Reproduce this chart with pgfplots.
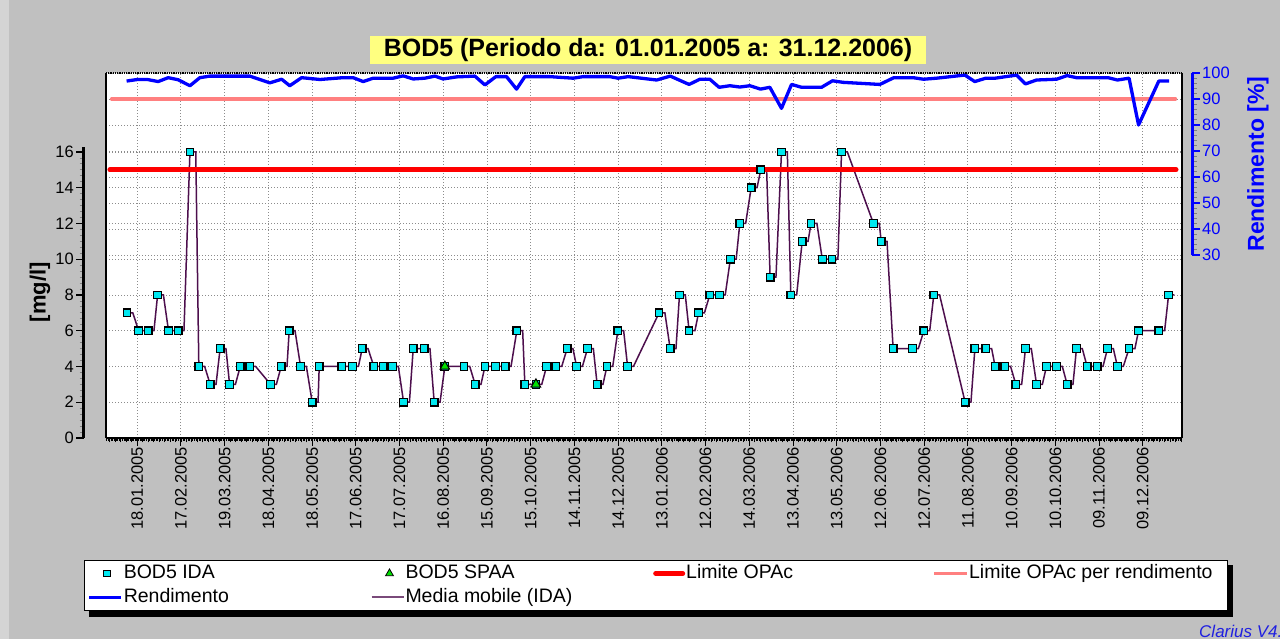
\documentclass[border=0pt]{standalone}
\usepackage{fontspec}
\setmainfont{Liberation Sans}
\usepackage{pgfplots}
\pgfplotsset{compat=1.18}
\definecolor{bggray}{HTML}{C0C0C0}
\definecolor{stripgray}{HTML}{D4D4D4}
\definecolor{gridc}{HTML}{8C8C8C}
\definecolor{cyanm}{HTML}{00E8F0}
\definecolor{greenm}{HTML}{00E000}
\definecolor{purp}{HTML}{4D0F4D}
\definecolor{purpl}{HTML}{7A4A7A}
\definecolor{pinkl}{HTML}{FF8080}
\definecolor{titley}{HTML}{FFFF80}
\definecolor{clar}{HTML}{2020E0}
\pgfplotsset{
  /pgf/number format/assume math mode=true,
  every tick label/.append style={font=\fontsize{16.5}{18}\selectfont},
  lgline/.style={legend image code/.code={\path[draw=none,fill=none] (-1pt,-1pt) rectangle (31pt,1pt);\draw[##1] (0pt,0pt) -- (32pt,0pt);}},
  lgrline/.style={legend image code/.code={\path[draw=none,fill=none] (-1pt,-1pt) rectangle (31pt,1pt);\draw[##1] (2.5pt,0pt) -- (29.5pt,0pt);}},
  lgmark/.style={legend image code/.code={\path[draw=none,fill=none] (-1pt,-1pt) rectangle (31pt,1pt);\draw[##1] plot coordinates {(18pt,0pt)};}},
}
\begin{document}
\begin{tikzpicture}
\fill[bggray] (0pt,0pt) rectangle (1280pt,639pt);
\fill[stripgray] (0pt,0pt) rectangle (9pt,639pt);
\node[fill=titley, minimum width=556pt, minimum height=28pt, inner sep=0pt, font=\fontsize{25}{28}\selectfont\bfseries] at (648pt,589pt) {BOD5 (Periodo da: 01.01.2005 a: 31.12.2006)};
% legend shadow
\fill[black] (89pt,22pt) rectangle (1233pt,74pt);

% secondary axis: Rendimento
\begin{axis}[
  at={(106pt,201pt)}, anchor=south west, scale only axis,
  width=1076pt, height=365pt,
  xmin=-21.4, xmax=716.9, ymin=-40.38, ymax=100,
  axis background/.style={fill=white},
  axis line style={draw=none},
  xtick={0,30,...,690}, xticklabels={}, xmajorgrids,
  ytick={30,40,...,100}, yticklabels={}, ymajorgrids,
  major tick length=0pt, minor tick length=0pt,
  grid style={gridc, line width=0.9pt, dash pattern=on 0.9pt off 2.1pt},
  clip=false,
]
\addplot[pinkl, line width=3.2pt, line cap=round, forget plot] coordinates {(-17.6,90) (712.5,90)};
\addplot[blue, line width=3.3pt, line join=round, forget plot] coordinates {
(-7.27,96.9) (0.14,97.5) (7.0,97.5) (14.4,96.7) (21.3,98.2) (28.1,97.4) (36.2,95.1) (43.0,98.2) (49.9,98.8) (77.3,98.8)
(91.0,96.2) (99.1,97.6) (104.7,95.1) (112.8,98.2) (125.4,97.5) (141.2,98.2) (148.2,98.2) (155.1,96.7) (161.9,98) (175.6,98)
(182.5,98.9) (189.4,97.7) (197.4,98) (204.3,98.8) (209.9,97.7) (219.1,98.5) (231.7,98.8) (238.6,95.4) (246.1,98.6) (253.4,98.6)
(260.3,93.8) (266.0,98.6) (283.1,98.6) (299.1,98) (306.0,98.6) (324.3,98.6) (330.0,98) (336.9,98.6) (356.4,97.3) (365.8,98.8)
(378.7,95.6) (386.1,97.6) (392.9,97.6) (399.3,94.5) (406.7,95.1) (413.5,94.6) (420.4,95.1) (427.7,93.8) (434.1,94.5) (442.1,86.4)
(449.0,95.6) (455.9,94.5) (469.6,94.5) (477.1,97) (484.4,96.4) (509.6,95.6) (519.2,98.2) (532.4,98.2) (539.6,97.6) (548.5,98)
(567.9,99.2) (574.7,96.7) (582.3,98) (588.7,98) (603.4,99.2) (609.5,95.8) (617.1,97.3) (630.8,97.6) (638.1,99) (644.5,98.2)
(666.2,98.2) (672.6,97.3) (680.6,98) (687.1,80) (701.0,96.9) (708.1,96.9)};
\end{axis}

% main axis: BOD5
\begin{axis}[
  at={(106pt,201pt)}, anchor=south west, scale only axis,
  width=1076pt, height=365pt,
  xmin=-21.4, xmax=716.9, ymin=0, ymax=20.42,
  axis line style={draw=none},
  xtick={0,30,...,690},
  xticklabels={18.01.2005,17.02.2005,19.03.2005,18.04.2005,18.05.2005,17.06.2005,17.07.2005,16.08.2005,15.09.2005,15.10.2005,14.11.2005,14.12.2005,13.01.2006,12.02.2006,14.03.2006,13.04.2006,13.05.2006,12.06.2006,12.07.2006,11.08.2006,10.09.2006,10.10.2006,09.11.2006,09.12.2006},
  minor xtick={-18.75,-15,...,716},
  xtick pos=left, ytick pos=left, tick align=outside,
  major tick length=8pt, minor tick length=4.5pt,
  major x tick style={black, line width=1pt},
  minor x tick style={black, line width=0.8pt},
  xticklabel style={rotate=90, anchor=east, inner sep=1pt},
  ytick={0,2,...,16}, yticklabels={}, ymajorgrids,
  major y tick style={draw=none},
  grid style={gridc, line width=0.9pt, dash pattern=on 0.9pt off 2.1pt},
  clip=false,
  legend columns=4,
  legend cell align=left,
  legend style={at={(-0.02045,-0.3342)}, anchor=north west, draw=black, line width=1pt, fill=white,
    inner sep=3pt, column sep=0pt, row sep=4pt,
    font=\fontsize{19.5}{22}\selectfont,
    nodes={inner sep=1pt, text height=14pt, text depth=4pt}},
]
\addplot[purp, line width=1.5pt, forget plot] coordinates {
(-7,7) (-3,7) (1,6) (5,6) (7.5,6) (11.5,6) (14,8) (18,8) (21.5,6) (25.5,6)
(28.1,6) (32.1,6) (36.2,16) (40.2,16) (42.3,4) (46.3,4) (50.1,3) (54.1,3) (56.9,5) (60.9,5)
(63.4,3) (67.4,3) (70.7,4) (74.7,4) (77.3,4) (81.3,4) (91.5,3) (95.5,3) (98.8,4) (102.8,4)
(104.3,6) (108.3,6) (112.1,4) (116.1,4) (120.1,2) (124.1,2) (124.9,4) (128.9,4) (140.4,4) (144.4,4)
(147.8,4) (151.8,4) (154.4,5) (158.4,5) (162.4,4) (166.4,4) (168.8,4) (172.8,4) (175.2,4) (179.2,4)
(182.8,2) (186.8,2) (189.4,5) (193.4,5) (196.9,5) (200.9,5) (203.8,2) (207.8,2) (211.1,4) (215.1,4)
(224.2,4) (228.2,4) (231.9,3) (235.9,3) (238.6,4) (242.6,4) (245.9,4) (249.9,4) (252.5,4) (256.5,4)
(260.5,6) (264.5,6) (266,3) (270,3) (273.6,3) (277.6,3) (280.9,4) (284.9,4) (287.3,4) (291.3,4)
(295,5) (299,5) (301.5,4) (305.5,4) (309,5) (313,5) (315.6,3) (319.6,3) (322.3,4) (326.3,4)
(329.8,6) (333.8,6) (336.5,4) (340.5,4) (358.1,7) (362.1,7) (365.7,5) (369.7,5) (372.1,8) (376.1,8)
(378.7,6) (382.7,6) (385.2,7) (389.2,7) (392.9,8) (396.9,8) (399.5,8) (403.5,8) (407,10) (411,10)
(413.5,12) (417.5,12) (421.3,14) (425.3,14) (427.9,15) (431.9,15) (434.3,9) (438.3,9) (442.1,16) (446.1,16)
(448.5,8) (452.5,8) (456.3,11) (460.3,11) (462.4,12) (466.4,12) (470.1,10) (474.1,10) (476.8,10) (480.8,10)
(483.3,16) (487.3,16) (505.2,12) (509.2,12) (510.5,11) (514.5,11) (518.7,5) (522.7,5) (532,5) (536,5)
(539.8,6) (543.8,6) (546.6,8) (550.6,8) (568.1,2) (572.1,2) (574.8,5) (578.8,5) (582.3,5) (586.3,5)
(588.7,4) (592.7,4) (595.3,4) (599.3,4) (602.9,3) (606.9,3) (609.5,5) (613.5,5) (617.1,3) (621.1,3)
(623.9,4) (627.9,4) (630.8,4) (634.8,4) (638.1,3) (642.1,3) (644.5,5) (648.5,5) (651.8,4) (655.8,4)
(658.7,4) (662.7,4) (665.8,5) (669.8,5) (672.6,4) (676.6,4) (680.6,5) (684.6,5) (687.1,6) (691.1,6)
(701,6) (705,6) (707.7,8) (711.7,8)};
\addplot[only marks, mark=square*, mark size=3.8pt, mark options={draw=black, fill=cyanm, line width=1.2pt}, forget plot] table {
d v
-7 7
1 6
7.5 6
14 8
21.5 6
28.1 6
36.2 16
42.3 4
50.1 3
56.9 5
63.4 3
70.7 4
77.3 4
91.5 3
98.8 4
104.3 6
112.1 4
120.1 2
124.9 4
140.4 4
147.8 4
154.4 5
162.4 4
168.8 4
175.2 4
182.8 2
189.4 5
196.9 5
203.8 2
211.1 4
224.2 4
231.9 3
238.6 4
245.9 4
252.5 4
260.5 6
266 3
273.6 3
280.9 4
287.3 4
295 5
301.5 4
309 5
315.6 3
322.3 4
329.8 6
336.5 4
358.1 7
365.7 5
372.1 8
378.7 6
385.2 7
392.9 8
399.5 8
407 10
413.5 12
421.3 14
427.9 15
434.3 9
442.1 16
448.5 8
456.3 11
462.4 12
470.1 10
476.8 10
483.3 16
505.2 12
510.5 11
518.7 5
532 5
539.8 6
546.6 8
568.1 2
574.8 5
582.3 5
588.7 4
595.3 4
602.9 3
609.5 5
617.1 3
623.9 4
630.8 4
638.1 3
644.5 5
651.8 4
658.7 4
665.8 5
672.6 4
680.6 5
687.1 6
701 6
707.7 8
};
\addplot[only marks, mark=triangle*, mark size=5.5pt, mark options={draw=black, fill=greenm, line width=1pt}, forget plot] coordinates {(211.1,4) (273.6,3)};
\addplot[red, line width=5pt, line cap=round, forget plot] coordinates {(-18.7,15) (712.8,15)};
% frame
\draw[line width=2pt] (rel axis cs:0,0) -- (rel axis cs:0,1);
\draw[line width=2pt] (rel axis cs:1,0) -- (rel axis cs:1,1);
\draw[line width=1.3pt, dash pattern=on 1pt off 0.8pt] (rel axis cs:0,1) -- (rel axis cs:1,1);
\draw[line width=1.5pt] (rel axis cs:0,0) -- (rel axis cs:1,0);
\draw[line width=2.5pt, dash pattern=on 0.8pt off 0.8pt, yshift=-1.8pt] (rel axis cs:0,0) -- (rel axis cs:1,0);
% legend
\addlegendimage{lgmark, mark=square*, mark size=3.3pt, mark options={draw=black, fill=cyanm, line width=1pt}}
\addlegendentry{\makebox[245.7pt][l]{BOD5 IDA}}
\addlegendimage{lgmark, mark=triangle*, mark size=4.5pt, mark options={draw=black, fill=greenm, line width=0.8pt}}
\addlegendentry{\makebox[245.7pt][l]{BOD5 SPAA}}
\addlegendimage{lgrline, red, line width=5pt, line cap=round}
\addlegendentry{\makebox[245.7pt][l]{Limite OPAc}}
\addlegendimage{lgline, pinkl, line width=3.2pt}
\addlegendentry{\makebox[254pt][l]{Limite OPAc per rendimento}}
\addlegendimage{lgline, blue, line width=3.3pt}
\addlegendentry{\makebox[245.7pt][l]{Rendimento}}
\addlegendimage{lgline, purpl, line width=2pt}
\addlegendentry{\makebox[245.7pt][l]{Media mobile (IDA)}}
\end{axis}

% left offset axis
\begin{axis}[
  at={(84pt,201pt)}, anchor=south west, scale only axis,
  width=1pt, height=291.4pt,
  xmin=0, xmax=1, ymin=0, ymax=16.3,
  axis y line*=left, axis x line=none,
  y axis line style={line width=3pt, black},
  ytick={0,2,...,16}, minor y tick num=5,
  tick align=outside, major tick length=8pt, minor tick length=4.5pt,
  major y tick style={black, line width=1.2pt},
  minor y tick style={gray, line width=0.8pt},
  yticklabel style={inner sep=2pt},
  ylabel={[mg/l]},
  every axis y label/.style={at={(axis cs:-44,8.15)}, rotate=90, anchor=center, font=\fontsize{22}{24}\selectfont\bfseries},
]
\end{axis}

% right offset axis
\begin{axis}[
  at={(1191pt,384pt)}, anchor=south west, scale only axis,
  width=1pt, height=182pt,
  xmin=0, xmax=1, ymin=30, ymax=100,
  axis y line*=right, axis x line=none,
  y axis line style={line width=3pt, blue},
  ytick={30,40,...,100}, minor y tick num=4,
  tick align=outside, major tick length=8pt, minor tick length=4.5pt,
  major y tick style={blue, line width=1.2pt},
  minor y tick style={gray, line width=0.8pt},
  yticklabel style={inner sep=2pt, text=blue},
  ylabel={Rendimento [\%]},
  every axis y label/.style={at={(axis cs:67,65)}, rotate=90, anchor=center, text=blue, font=\fontsize{23}{25}\selectfont\bfseries},
]
\end{axis}

\node[anchor=base west, text=clar, font=\fontsize{17}{20}\selectfont\itshape, inner sep=0pt] at (1199pt,1.5pt) {Clarius V4.0};
\pgfresetboundingbox
\useasboundingbox (0pt,0pt) rectangle (1280pt,639pt);
\end{tikzpicture}
\end{document}
